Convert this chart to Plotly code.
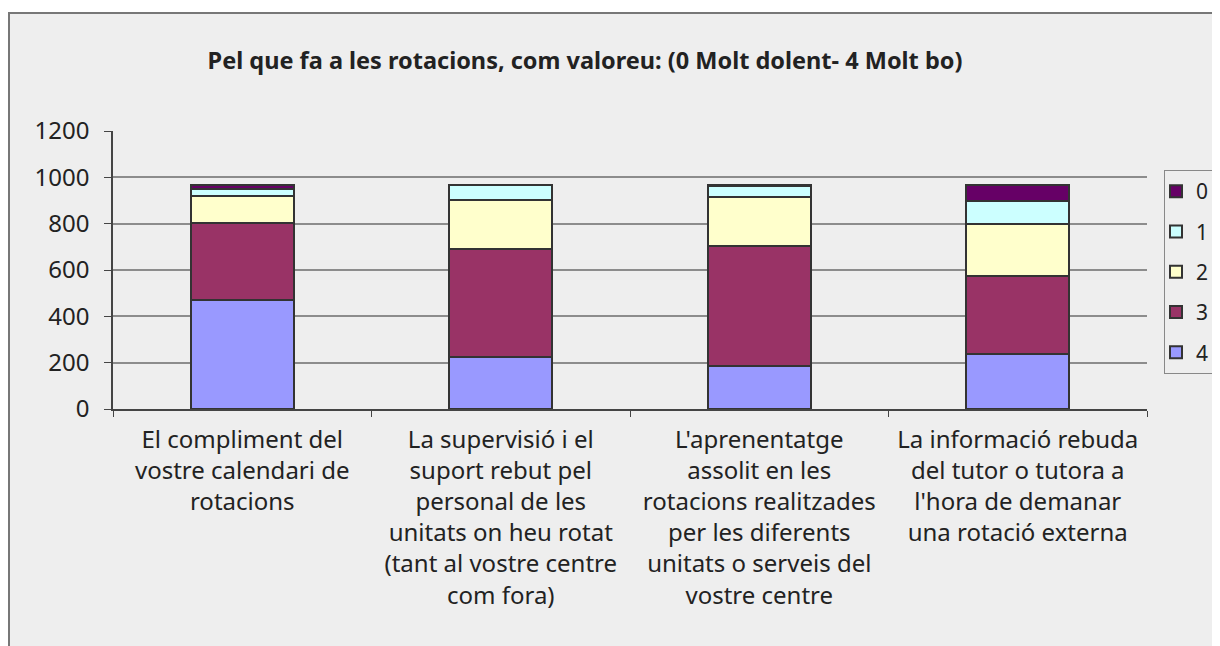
import plotly.graph_objects as go

categories = [
    "El compliment del<br>vostre calendari de<br>rotacions",
    "La supervisió i el<br>suport rebut pel<br>personal de les<br>unitats on heu rotat<br>(tant al vostre centre<br>com fora)",
    "L'aprenentatge<br>assolit en les<br>rotacions realitzades<br>per les diferents<br>unitats o serveis del<br>vostre centre",
    "La informació rebuda<br>del tutor o tutora a<br>l'hora de demanar<br>una rotació externa",
]
series_names = ["4", "3", "2", "1", "0"]
val_4 = [470, 223, 186, 236]
val_3 = [334, 469, 516, 337]
val_2 = [117, 209, 215, 226]
val_1 = [27, 65, 45, 99]
val_0 = [20, 2, 6, 70]
series_values = [val_4, val_3, val_2, val_1, val_0]
colors = ["#9999ff", "#993366", "#ffffcc", "#ccffff", "#660066"]
y_ticks = [0, 200, 400, 600, 800, 1000, 1200]
title_text = "Pel que fa a les rotacions, com valoreu: (0 Molt dolent- 4 Molt bo)"

FONT = "Noto Sans, Liberation Sans, Arial, sans-serif"
OFF = 8  # page body margin

fig = go.Figure()
for i, (name, vals, col) in enumerate(zip(series_names, series_values, colors)):
    fig.add_trace(go.Bar(
        x=categories, y=vals, name=name, legendgroup=name,
        legendrank=len(series_names) - i,
        marker=dict(color=col, line=dict(color="#333333", width=2)),
    ))

W, H = 1220, 638
L = 113 - OFF
T = 131 - OFF
R = W - (1147 - OFF)
B = H - (409 - OFF)
pw = W - L - R
ph = H - T - B

def px(x):
    return (x - OFF - L) / pw

def py(y):
    return (H - B - (y - OFF)) / ph

fig.update_layout(
    width=W, height=H,
    margin=dict(l=L, r=R, t=T, b=B, autoexpand=False),
    barmode="stack", bargap=0.6,
    paper_bgcolor="white", plot_bgcolor="#eeeeee",
    font=dict(family=FONT, color="#222222", size=24),
    title=dict(text="<b>" + title_text + "</b>", x=px(585), xref="paper", xanchor="center",
               y=1 - (61 - OFF) / H, yanchor="middle", yref="container",
               font=dict(size=23.5, family=FONT, color="#222222")),
    legend=dict(
        x=px(1164), xanchor="left", y=py(170), yanchor="top",
        bgcolor="#eeeeee", bordercolor="#888888", borderwidth=1,
        font=dict(size=21, family=FONT, color="#222222"),
        traceorder="grouped", tracegroupgap=10,
        itemwidth=30, indentation=-9,
    ),
    shapes=[dict(type="rect", xref="paper", yref="paper",
                 x0=px(9), x1=1.3, y0=-1.2, y1=py(13),
                 line=dict(color="#777777", width=2), fillcolor="#eeeeee", layer="below")],
)
fig.update_xaxes(
    showline=True, linecolor="#444444", linewidth=1.5,
    ticks="outside", tickson="boundaries", ticklen=6, tickcolor="#444444",
    showgrid=False, tickfont=dict(size=24), ticklabelstandoff=8,
)
fig.update_yaxes(
    range=[0, 1200], tickvals=y_ticks, showline=True, linecolor="#444444", linewidth=1.5,
    ticks="outside", ticklen=7, tickcolor="#444444",
    showgrid=True, gridcolor="#8c8c8c", gridwidth=1.5, zeroline=False,
    tickfont=dict(size=24), ticklabelstandoff=10,
)
fig.write_html("out.html")
